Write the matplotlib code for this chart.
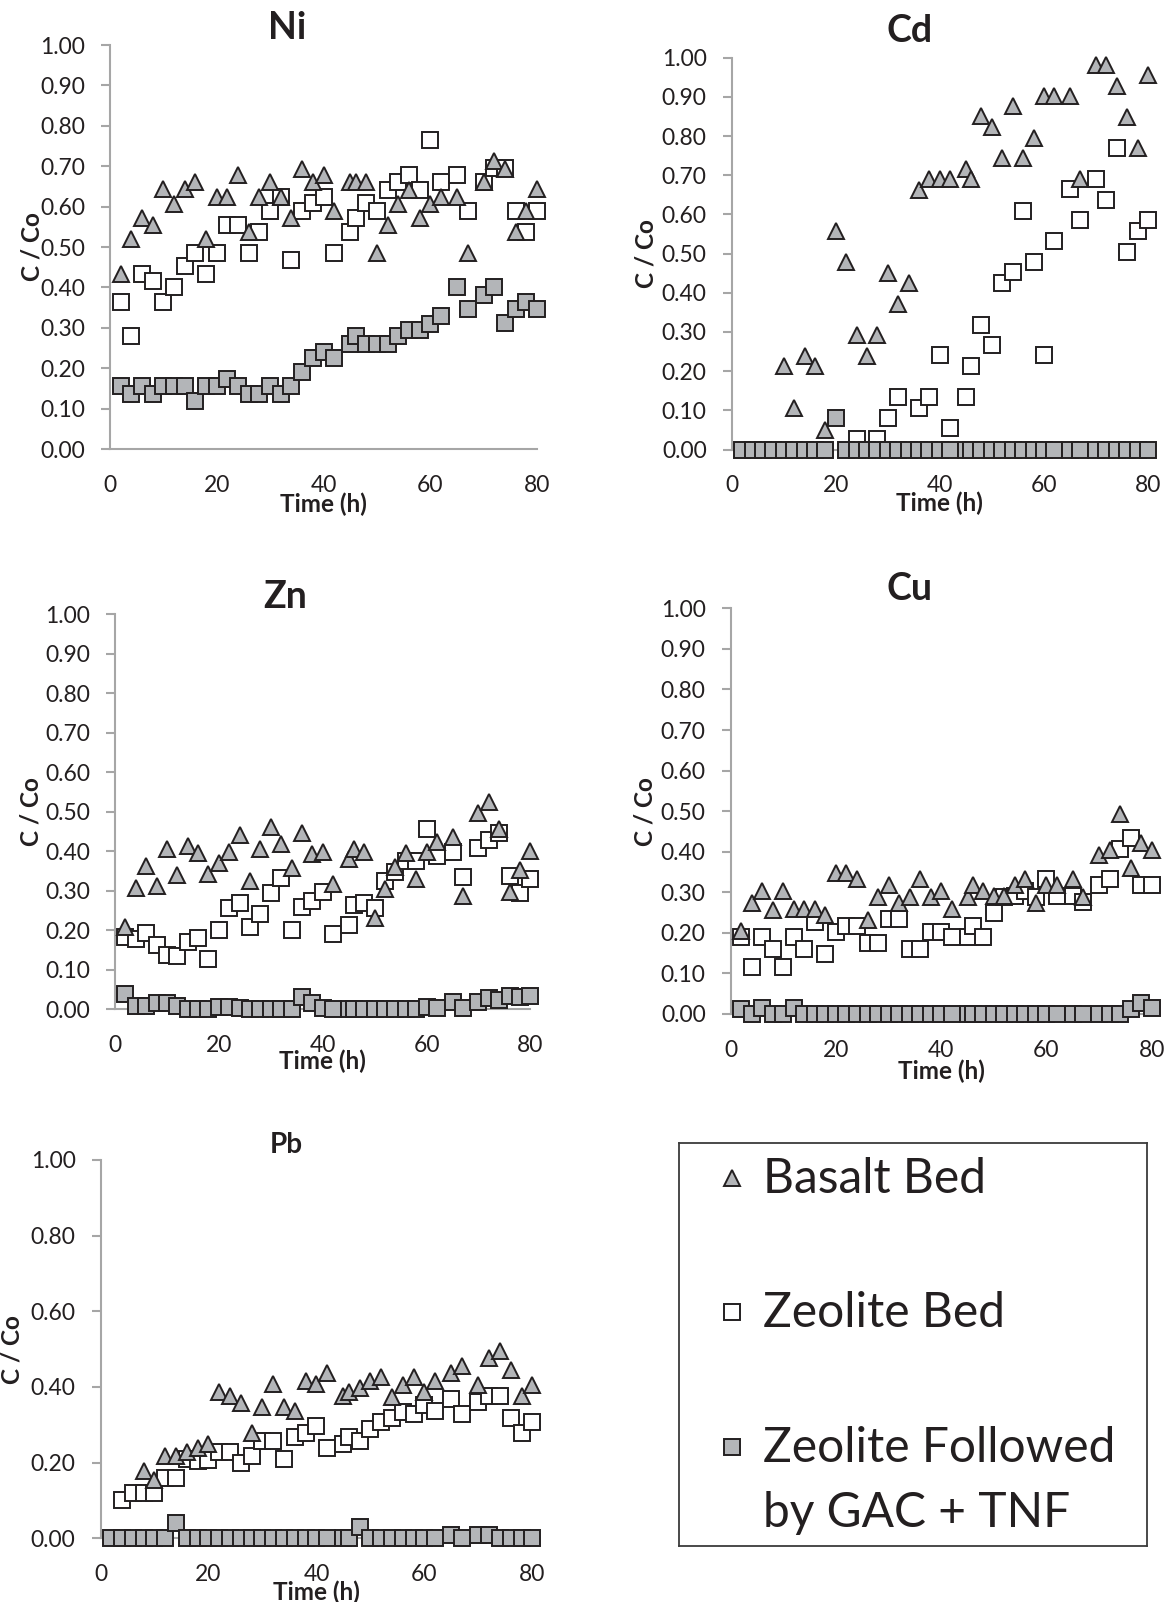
import numpy as np
import matplotlib
matplotlib.use("Agg")
import matplotlib.pyplot as plt
from matplotlib.ticker import MultipleLocator, FormatStrFormatter
from matplotlib.lines import Line2D

plt.rcParams['font.family'] = ['Lato', 'DejaVu Sans']

nan = np.nan

# Sampling times (h)
time_h = [2, 4, 6, 8, 10, 12, 14, 16, 18, 20, 22, 24, 26, 28, 30, 32, 34, 36, 38, 40, 42,
          45, 46, 48, 50, 52, 54, 56, 58, 60, 62, 65, 67, 70, 72, 74, 76, 78, 80]

# Ni breakthrough, C/Co
ni_basalt = [0.434, 0.52, 0.573, 0.555, 0.643, 0.607, 0.643, 0.66, 0.52, 0.625, 0.625, 0.677, 0.537,
             0.625, 0.66, 0.625, 0.573, 0.694, 0.66, 0.677, 0.588,
             0.66, 0.66, 0.66, 0.485, 0.554, 0.607, 0.64, 0.573, 0.606, 0.625, 0.625, 0.485, 0.66,
             0.712, 0.694, 0.537, 0.588, 0.643]
ni_zeolite = [0.365, 0.279, 0.434, 0.417, 0.365, 0.40, 0.452, 0.486, 0.434, 0.486, 0.555, 0.555, 0.486,
              0.538, 0.59, 0.625, 0.468, 0.59, 0.608, 0.625, 0.486,
              0.538, 0.573, 0.608, 0.59, 0.641, 0.66, 0.677, 0.641, 0.765, 0.66, 0.677, 0.59, 0.66,
              0.695, 0.695, 0.59, 0.538, 0.59]
ni_gac = [0.155, 0.137, 0.155, 0.137, 0.155, 0.155, 0.155, 0.12, 0.155, 0.155, 0.173, 0.155, 0.137,
          0.137, 0.155, 0.137, 0.155, 0.19, 0.225, 0.24, 0.225,
          0.26, 0.28, 0.26, 0.26, 0.26, 0.28, 0.295, 0.295, 0.31, 0.33, 0.40, 0.347, 0.38,
          0.40, 0.313, 0.347, 0.365, 0.347]

# Cd breakthrough, C/Co
cd_basalt = [nan, nan, nan, nan, 0.212, 0.106, 0.239, 0.212, 0.051, 0.557, 0.478, 0.293, 0.239,
             0.293, 0.451, 0.372, 0.424, 0.663, 0.69, 0.69, 0.69,
             0.717, 0.69, 0.85, 0.823, 0.744, 0.877, 0.744, 0.796, 0.902, 0.902, 0.902, 0.69, 0.982,
             0.982, 0.928, 0.848, 0.769, 0.955]
cd_zeolite = [nan, nan, nan, nan, nan, nan, nan, nan, nan, nan, nan, 0.027, nan,
              0.027, 0.081, 0.134, nan, 0.106, 0.134, 0.24, 0.055,
              0.134, 0.213, 0.319, 0.266, 0.426, 0.453, 0.61, 0.479, 0.24, 0.532, 0.664, 0.585, 0.691,
              0.638, 0.77, 0.505, 0.557, 0.585]
cd_gac = [0, 0, 0, 0, 0, 0, 0, 0, 0, 0.081, 0, 0, 0, 0, 0, 0, 0, 0, 0, 0, 0,
          0, 0, 0, 0, 0, 0, 0, 0, 0, 0, 0, 0, 0, 0, 0, 0, 0, 0]

# Zn breakthrough, C/Co
zn_basalt = [0.208, 0.306, 0.363, 0.311, 0.405, 0.34, 0.413, 0.395, 0.342, 0.371, 0.399, 0.441, 0.325,
             0.405, 0.46, 0.417, 0.357, 0.446, 0.393, 0.399, 0.316,
             0.381, 0.405, 0.399, 0.232, 0.304, 0.36, 0.395, 0.329, 0.399, 0.422, 0.437, 0.287, 0.497,
             0.525, 0.455, 0.296, 0.352, 0.40]
zn_zeolite = [0.184, 0.177, 0.192, 0.163, 0.137, 0.135, 0.171, 0.181, 0.126, 0.201, 0.255, 0.27, 0.209,
              0.241, 0.293, 0.331, 0.201, 0.26, 0.275, 0.298, 0.191,
              0.213, 0.264, 0.268, 0.255, 0.325, 0.348, 0.376, 0.376, 0.455, 0.389, 0.399, 0.334, 0.409,
              0.428, 0.447, 0.337, 0.293, 0.33]
zn_gac = [0.038, 0.008, 0.008, 0.015, 0.015, 0.008, 0, 0, 0, 0.007, 0.007, 0.003, 0,
          0, 0, 0, 0, 0.03, 0.015, 0.003, 0,
          0, 0, 0, 0, 0, 0, 0, 0, 0.007, 0.003, 0.018, 0.003, 0.018,
          0.028, 0.024, 0.034, 0.03, 0.034]

# Cu breakthrough, C/Co
cu_basalt = [0.205, 0.274, 0.304, 0.257, 0.304, 0.26, 0.26, 0.26, 0.245, 0.347, 0.347, 0.332, 0.231,
             0.288, 0.319, 0.274, 0.288, 0.332, 0.288, 0.304, 0.26,
             0.288, 0.319, 0.304, 0.29, 0.29, 0.319, 0.332, 0.274, 0.319, 0.319, 0.332, 0.288, 0.391,
             0.405, 0.493, 0.361, 0.421, 0.405]
cu_zeolite = [0.189, 0.117, 0.189, 0.16, 0.117, 0.189, 0.16, 0.228, 0.147, 0.203, 0.217, 0.217, 0.174,
              0.174, 0.233, 0.233, 0.16, 0.16, 0.203, 0.203, 0.189,
              0.189, 0.217, 0.189, 0.248, 0.288, 0.291, 0.302, 0.288, 0.332, 0.291, 0.291, 0.277, 0.318,
              0.332, 0.406, 0.433, 0.318, 0.318]
cu_gac = [0.012, 0, 0.014, 0, 0, 0.016, 0, 0, 0, 0, 0, 0, 0, 0, 0, 0, 0, 0, 0, 0, 0,
          0, 0, 0, 0, 0, 0, 0, 0, 0, 0, 0, 0, 0, 0, 0, 0.012, 0.026, 0.014]

# Pb breakthrough, C/Co
pb_basalt = [nan, nan, nan, 0.179, 0.154, 0.218, 0.218, 0.229, 0.238, 0.248, 0.388, 0.376, 0.357,
             0.278, 0.348, 0.407, 0.348, 0.337, 0.417, 0.407, 0.436,
             0.376, 0.386, 0.396, 0.417, 0.426, 0.373, 0.405, 0.426, 0.386, 0.417, 0.436, 0.455, 0.405,
             0.476, 0.496, 0.445, 0.376, 0.405]
pb_zeolite = [nan, 0.10, 0.12, 0.12, 0.12, 0.159, 0.159, 0.21, 0.205, 0.207, 0.229, 0.229, 0.20,
              0.218, 0.258, 0.258, 0.209, 0.269, 0.279, 0.298, 0.238,
              0.249, 0.269, 0.258, 0.288, 0.308, 0.317, 0.335, 0.329, 0.352, 0.337, 0.367, 0.329, 0.359,
              0.376, 0.376, 0.317, 0.278, 0.308]
pb_gac = [0, 0, 0, 0, 0, 0, 0.04, 0, 0, 0, 0, 0, 0, 0, 0, 0, 0, 0, 0, 0, 0,
          0, 0, 0.031, 0, 0, 0, 0, 0, 0, 0, 0.009, 0, 0.009, 0.009, 0, 0, 0, 0]

series_labels = ['Basalt Bed', 'Zeolite Bed', 'Zeolite Followed\nby GAC + TNF']

# ---- styling ----
W, H = 1168, 1602
DPI = 100
GRAY_FILL = '#b3b5b8'
EDGE = '#231f20'
AXIS_GRAY = '#a6a6a6'
TEXT = '#231f20'

marker_styles = {
    'basalt': dict(marker='^', ms=12.0, mfc=GRAY_FILL, mec=EDGE, mew=1.4, zorder=3),
    'zeolite': dict(marker='s', ms=11.8, mfc='white', mec=EDGE, mew=1.4, zorder=2),
    'gac': dict(marker='s', ms=11.8, mfc=GRAY_FILL, mec=EDGE, mew=1.4, zorder=4),
}

# panel layout in pixels: (left, top, right, bottom)
panels = [
    dict(name='Ni', data=(ni_basalt, ni_zeolite, ni_gac), box=(110, 45, 537, 449), ystep=0.1,
         title_x=287, title_gap=3, title_size=27, ylabel_x=31.5, xlabel_gap=55),
    dict(name='Cd', data=(cd_basalt, cd_zeolite, cd_gac), box=(731.7, 57.7, 1148, 449.5), ystep=0.1,
         title_x=910, title_gap=16, title_size=27, ylabel_x=646, xlabel_gap=54),
    dict(name='Zn', data=(zn_basalt, zn_zeolite, zn_gac), box=(115, 614, 530.4, 1009.3), ystep=0.1,
         title_x=285, title_gap=6, title_size=27, ylabel_x=31, xlabel_gap=52),
    dict(name='Cu', data=(cu_basalt, cu_zeolite, cu_gac), box=(730.7, 608.3, 1151.7, 1014), ystep=0.1,
         title_x=910, title_gap=8, title_size=27, ylabel_x=645, xlabel_gap=57),
    dict(name='Pb', data=(pb_basalt, pb_zeolite, pb_gac), box=(100.5, 1160, 532.4, 1538.3), ystep=0.2,
         title_x=286, title_gap=7, title_size=20, ylabel_x=12.5, xlabel_gap=54),
]

PX2PT = 72.0 / DPI

fig = plt.figure(figsize=(W / DPI, H / DPI), dpi=DPI)
fig.patch.set_facecolor('white')

for p in panels:
    l, t, r, b = p['box']
    ax = fig.add_axes([l / W, 1 - b / H, (r - l) / W, (b - t) / H])
    basalt, zeolite, gac = p['data']
    ax.plot(time_h, zeolite, ls='none', clip_on=False, **marker_styles['zeolite'])
    ax.plot(time_h, basalt, ls='none', clip_on=False, **marker_styles['basalt'])
    ax.plot(time_h, gac, ls='none', clip_on=False, **marker_styles['gac'])

    ax.set_xlim(0, 80)
    ax.set_ylim(0, 1.0)
    ax.xaxis.set_major_locator(MultipleLocator(20))
    ax.yaxis.set_major_locator(MultipleLocator(p['ystep']))
    ax.yaxis.set_major_formatter(FormatStrFormatter('%.2f'))

    for side in ('top', 'right'):
        ax.spines[side].set_visible(False)
    for side in ('left', 'bottom'):
        ax.spines[side].set_color(AXIS_GRAY)
        ax.spines[side].set_linewidth(1.5)

    ax.tick_params(axis='y', direction='out', length=6.5, width=1.5, color=AXIS_GRAY,
                   labelsize=16.5, labelcolor=TEXT, pad=11.5)
    ax.tick_params(axis='x', length=0, labelsize=16.5, labelcolor=TEXT, pad=18.5)

    h_px = b - t
    ax.set_title(p['name'], x=(p['title_x'] - l) / (r - l), pad=p['title_gap'] * PX2PT,
                 fontsize=p['title_size'], fontweight='bold', color=TEXT)

    ax.set_xlabel('Time (h)', fontsize=17.5, fontweight='bold', color=TEXT)
    ax.xaxis.set_label_coords(0.5, -p['xlabel_gap'] / h_px)
    ax.xaxis.label.set_va('center')

    ax.set_ylabel('C / Co', fontsize=17.5, fontweight='bold', color=TEXT)
    ax.yaxis.set_label_coords((p['ylabel_x'] - l) / (r - l), 0.5)
    ax.yaxis.label.set_va('center')

# ---- legend panel ----
lx0, ly0, lx1, ly1 = 679.3, 1142.7, 1146.7, 1546
lax = fig.add_axes([lx0 / W, 1 - ly1 / H, (lx1 - lx0) / W, (ly1 - ly0) / H])
lax.set_xticks([])
lax.set_yticks([])
for s in lax.spines.values():
    s.set_color('#3c3c3c')
    s.set_linewidth(1.3)

def lfrac(x, y):
    return (x - lx0) / (lx1 - lx0), 1 - (y - ly0) / (ly1 - ly0)

legend_rows = [  # marker center y, baseline of the label's last line (px)
    ('basalt', 1178, 1192.7),
    ('zeolite', 1311.7, 1327),
    ('gac', 1446.7, 1526.7),
]
for (key, my, ty), label in zip(legend_rows, series_labels):
    style = dict(marker_styles[key])
    style['ms'] = style['ms'] * 0.95
    mx, myf = lfrac(731.7, my)
    lax.add_line(Line2D([mx], [myf], ls='none', transform=lax.transAxes, **style))
    tx, tyf = lfrac(763, ty)
    lax.text(tx, tyf, label, transform=lax.transAxes, fontsize=34.5, color=TEXT,
             ha='left', va='baseline', linespacing=1.57)

fig.savefig('out.png', dpi=DPI, facecolor='white')
